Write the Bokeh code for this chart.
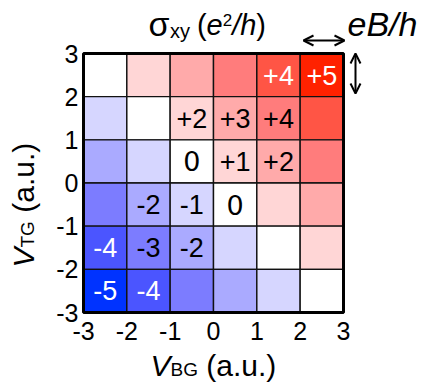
import math
from bokeh.plotting import figure
from bokeh.models import Range1d, Label, Arrow, OpenHead, ColumnDataSource
from bokeh.core.properties import value
from bokeh.embed import file_html
from bokeh.resources import INLINE

# ---------------- data ----------------
vbg_centers = [-2.5, -1.5, -0.5, 0.5, 1.5, 2.5]
vtg_centers = [2.5, 1.5, 0.5, -0.5, -1.5, -2.5]   # rows, top to bottom
sigma_rows = [
    [0, 1, 2, 3, 4, 5],
    [-1, 0, 1, 2, 3, 4],
    [-2, -1, 0, 1, 2, 3],
    [-3, -2, -1, 0, 1, 2],
    [-4, -3, -2, -1, 0, 1],
    [-5, -4, -3, -2, -1, 0],
]
label_rows = [
    ["", "", "", "", "+4", "+5"],
    ["", "", "+2", "+3", "+4", ""],
    ["", "", "0", "+1", "+2", ""],
    ["", "-2", "-1", "0", "", ""],
    ["-4", "-3", "-2", "", "", ""],
    ["-5", "-4", "", "", "", ""],
]
tick_values = [-3, -2, -1, 0, 1, 2, 3]
tick_labels = ["-3", "-2", "-1", "0", "1", "2", "3"]
level_colors = {
    -5: "#0033FF", -4: "#4B55FF", -3: "#7C7CFF", -2: "#AAAAFF", -1: "#D6D6FF",
    0: "#FFFFFF",
    1: "#FFD6D6", 2: "#FFAAAA", 3: "#FF7C7C", 4: "#FF5545", 5: "#FF2200",
}

# ---------------- layout ----------------
W, H = 423, 383
L, R, T, B = 83, 80, 53, 71          # heat-map box inside the canvas (px)
FW, FH = W - L - R, H - T - B

def X(px):
    return -3 + (px - L) * 6.0 / FW

def Y(py):
    return 3 - (py - T) * 6.0 / FH

FONT = "Liberation Sans"
AW = {'V': 667, 'B': 667, 'G': 778, 'T': 611, ' ': 278, '(': 333, ')': 333, 'a': 556,
      '.': 278, 'u': 556, 'e': 556, '/': 278, 'h': 556, 'x': 500, 'y': 500, '2': 556,
      'σ': 600}

def tw(s, size):
    return sum(AW.get(c, 556) for c in s) * size / 1000.0

p = figure(width=W, height=H, output_backend="svg", toolbar_location=None,
           x_range=Range1d(X(0), X(W)), y_range=Range1d(Y(H), Y(0)),
           x_axis_location=None, y_axis_location=None,
           min_border=0)
p.background_fill_color = "white"
p.border_fill_color = "white"
p.grid.visible = False
p.outline_line_color = None

xs, ys, vals, cols, labs, lcols, lfonts = [], [], [], [], [], [], []
for r, yc in enumerate(vtg_centers):
    for c, xc in enumerate(vbg_centers):
        v = sigma_rows[r][c]
        xs.append(xc); ys.append(yc); vals.append(v)
        cols.append(level_colors[v])
        labs.append(label_rows[r][c])
        lcols.append("white" if abs(v) >= 4 else "black")
        lfonts.append("DejaVu Sans" if label_rows[r][c] == "0" else FONT)

src = ColumnDataSource(dict(x=xs, y=ys, v=vals, color=cols, label=labs,
                            lcolor=lcols, lfont=lfonts))
p.rect(x="x", y="y", width=1, height=1, source=src, fill_color="color",
       line_color="#111111", line_width=1.4)
p.text(x="x", y="y", text="label", source=src, text_color="lcolor",
       text_font="lfont", text_font_size="27px", text_align="center",
       text_baseline="middle")

# outer frame of the map
p.quad(left=[tick_values[0]], right=[tick_values[-1]], bottom=[tick_values[0]],
       top=[tick_values[-1]], fill_color=None, line_color="black", line_width=3)

# tick labels (axes)
p.text(x=tick_values, y=[Y(330)] * len(tick_values), text=tick_labels,
       text_font=value(FONT), text_font_size="25px", text_color="black",
       text_align="center", text_baseline="middle")
p.text(x=[X(78)] * len(tick_values), y=tick_values, text=tick_labels,
       text_font=value(FONT), text_font_size="25px", text_color="black",
       text_align="right", text_baseline="middle")

SHIFT = 0.35  # label anchor -> alphabetic baseline offset (em)

def add_label(px, py, text, size, italic=False, rotated=False):
    if rotated:
        ax, ay, ang = px - SHIFT * size, py, math.pi / 2
    else:
        ax, ay, ang = px, py - SHIFT * size, 0.0
    p.add_layout(Label(x=X(ax), y=Y(ay), text=text, text_font=FONT,
                       text_font_size=f"{size}px",
                       text_font_style="italic" if italic else "normal",
                       text_color="black", text_align="left",
                       text_baseline="alphabetic", angle=ang))

# x-axis label: V_BG (a.u.)
x0, base = 150, 375
add_label(x0, base, "V", 30, italic=True); x0 += tw("V", 30)
add_label(x0, base + 1, "BG", 19); x0 += tw("BG", 19) + tw(" ", 30)
add_label(x0, base, "(a.u.)", 30)

# y-axis label (rotated): V_TG (a.u.)
y0, bx = 267, 33
add_label(bx, y0, "V", 30, italic=True, rotated=True); y0 -= tw("V", 30)
add_label(bx + 1, y0, "TG", 19, rotated=True); y0 -= tw("TG", 19) + tw(" ", 30)
add_label(bx, y0, "(a.u.)", 30, rotated=True)

# title: sigma_xy (e^2/h)
x0, base = 148, 35
add_label(x0, base, "σ", 34); x0 += tw("σ", 34) + 1
add_label(x0, base + 2, "xy", 20); x0 += tw("xy", 20) + 7
add_label(x0, base, "(", 29); x0 += tw("(", 29)
add_label(x0, base, "e", 29, italic=True); x0 += tw("e", 29)
add_label(x0, base - 10, "2", 17); x0 += tw("2", 17)
add_label(x0, base, "/h", 29, italic=True); x0 += tw("/h", 29)
add_label(x0, base, ")", 29)

# eB/h with arrows
add_label(347, 35, "eB/h", 34, italic=True)
p.add_layout(Arrow(start=OpenHead(size=10, line_width=2), end=OpenHead(size=10, line_width=2),
                   x_start=X(303), y_start=Y(40), x_end=X(344), y_end=Y(40),
                   line_width=2, line_color="black"))
p.add_layout(Arrow(start=OpenHead(size=10, line_width=2), end=OpenHead(size=10, line_width=2),
                   x_start=X(355), y_start=Y(53), x_end=X(355), y_end=Y(93),
                   line_width=2, line_color="black"))

open("out.html", "w").write(file_html(p, INLINE))
